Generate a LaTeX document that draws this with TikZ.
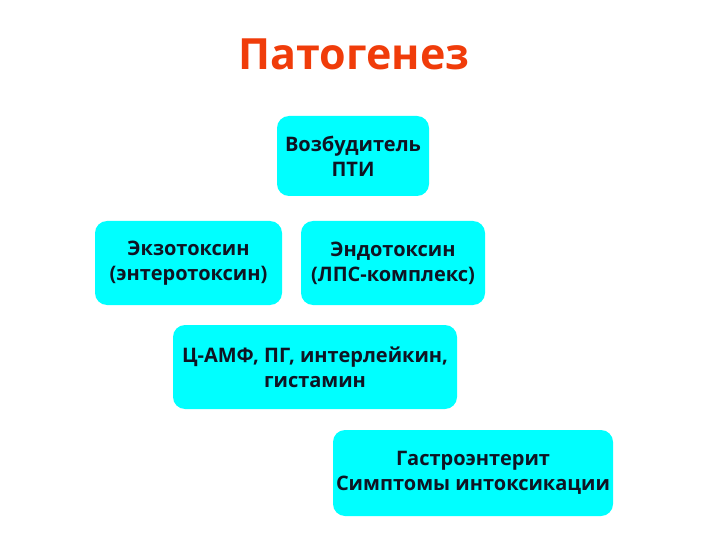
\documentclass[tikz,border=0pt]{standalone}
\usepackage{fontspec}
\setmainfont{Open Sans}
\definecolor{titlered}{RGB}{240,60,10}
\definecolor{boxcyan}{RGB}{0,255,255}
\definecolor{boxtext}{RGB}{15,20,35}
\begin{document}
\begin{tikzpicture}[x=1pt, y=-1pt,
		blok/.style={fill=boxcyan, rounded corners=12pt, align=center, text=boxtext,
			font=\fontsize{20}{25}\selectfont\bfseries, inner sep=0pt}]
		\useasboundingbox (0,0) rectangle (720,540);
		\node[anchor=base, text=titlered, font=\fontsize{43}{45}\selectfont\bfseries] (titul) at (354,70) {Патогенез};
		\node[blok, minimum width=152pt, minimum height=80pt] (vozb) at (353,156) {Возбудитель\\ПТИ};
		\node[blok, minimum width=187pt, minimum height=84pt] (ekzo) at (188.5,263) {Экзотоксин\\(энтеротоксин)};
		\node[blok, minimum width=184pt, minimum height=84pt] (endo) at (393,263) {Эндотоксин\\(ЛПС-комплекс)};
		\node[blok, minimum width=284pt, minimum height=84pt] (camf) at (315,367) {Ц-АМФ, ПГ, интерлейкин,\\гистамин};
		\node[blok, minimum width=280pt, minimum height=86pt] (gastro) at (473,473) {Гастроэнтерит\\Симптомы интоксикации};
		\end{tikzpicture}
\end{document}
